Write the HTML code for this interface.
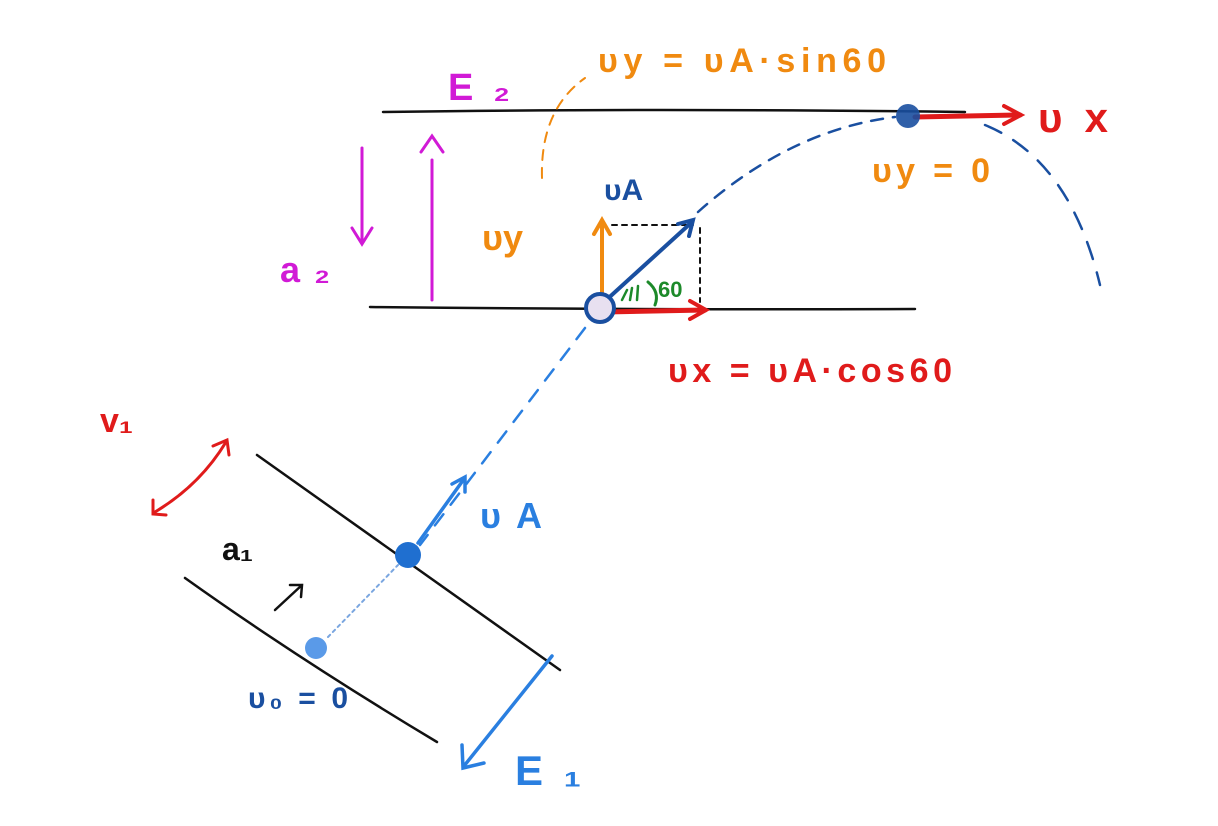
<!DOCTYPE html>
<html><head><meta charset="utf-8"><style>
html,body{margin:0;padding:0;background:#fff;}
svg{display:block}
text{font-family:"Liberation Sans",sans-serif;}
</style></head><body>
<svg width="1218" height="826" viewBox="0 0 1218 826" xmlns="http://www.w3.org/2000/svg">
<g fill="none" stroke-linecap="round">
<path d="M383,112 Q650,108 965,112" stroke="#111" stroke-width="2.5"/>
<path d="M370,307 Q640,310 915,309" stroke="#111" stroke-width="2.5"/>
<path d="M362,148 L362,242" stroke="#d11ad6" stroke-width="3"/>
<path d="M352,228 L362,244 L372,228" stroke="#d11ad6" stroke-width="3"/>
<path d="M432,300 L432,160" stroke="#d11ad6" stroke-width="3"/>
<path d="M421,152 L432,136 L443,152" stroke="#d11ad6" stroke-width="3"/>
<path d="M542,178 Q540,110 585,78" stroke="#f08a10" stroke-width="2" stroke-dasharray="10,8"/>
<path d="M602,300 L602,222" stroke="#f08a10" stroke-width="4"/>
<path d="M594,234 L602,220 L610,234" stroke="#f08a10" stroke-width="4"/>
<path d="M612,225 L693,225 M700,228 L700,302" stroke="#111" stroke-width="2" stroke-dasharray="5,5"/>
<path d="M603,303 L692,222" stroke="#1a4fa0" stroke-width="4"/>
<path d="M678,224 L693,220 L689,236" stroke="#1a4fa0" stroke-width="4"/>
<path d="M648,282 Q660,292 655,305" stroke="#1d8a2a" stroke-width="3"/>
<path d="M622,300 L627,290 M630,300 L632,288 M637,300 L638,286" stroke="#1d8a2a" stroke-width="2.5"/>
<path d="M605,312 L705,310" stroke="#e01b1b" stroke-width="5"/>
<path d="M690,301 L706,310 L690,319" stroke="#e01b1b" stroke-width="4"/>
<path d="M698,212 Q790,130 895,117" stroke="#1a4fa0" stroke-width="2.5" stroke-dasharray="12,10"/>
<path d="M985,125 Q1070,160 1100,285" stroke="#1a4fa0" stroke-width="2.5" stroke-dasharray="18,14"/>
<path d="M585,328 L420,545" stroke="#2a7fe0" stroke-width="2.5" stroke-dasharray="14,12"/>
<path d="M328,637 L398,565" stroke="#7aa6e0" stroke-width="2" stroke-dasharray="3,4"/>
<path d="M915,117 L1020,115" stroke="#e01b1b" stroke-width="5"/>
<path d="M1004,106 L1021,115 L1004,124" stroke="#e01b1b" stroke-width="4"/>
<path d="M257,455 Q420,570 560,670" stroke="#111" stroke-width="2.5"/>
<path d="M185,578 Q300,660 437,742" stroke="#111" stroke-width="2.5"/>
<path d="M155,512 Q200,485 226,442" stroke="#e01b1b" stroke-width="3"/>
<path d="M213,446 L227,440 L229,455 M153,500 L153,514 L166,515" stroke="#e01b1b" stroke-width="3"/>
<path d="M275,610 L302,585 M290,585 L302,585 L301,597" stroke="#111" stroke-width="2.5"/>
<path d="M418,543 L464,479" stroke="#2a7fe0" stroke-width="3.5"/>
<path d="M452,484 L465,477 L465,492" stroke="#2a7fe0" stroke-width="3.5"/>
<path d="M552,656 L464,766" stroke="#2a7fe0" stroke-width="3.5"/>
<path d="M462,745 L463,768 L484,763" stroke="#2a7fe0" stroke-width="3.5"/>
</g>
<circle cx="600" cy="308" r="14" fill="#e8e0f0" stroke="#1a4fa0" stroke-width="4"/>
<circle cx="908" cy="116" r="12" fill="#1a4fa0" opacity="0.9"/>
<circle cx="408" cy="555" r="13" fill="#1f6fd0"/>
<circle cx="316" cy="648" r="11" fill="#5a9ae8"/>
<g font-weight="bold">
<text x="448" y="100" fill="#d11ad6" font-size="38" textLength="62">E₂</text>
<text x="280" y="282" fill="#d11ad6" font-size="36" textLength="50">a₂</text>
<text x="598" y="72" fill="#f08a10" font-size="34" textLength="288">υy = υA·sin60</text>
<text x="482" y="250" fill="#f08a10" font-size="36">υy</text>
<text x="604" y="200" fill="#1a4fa0" font-size="30">υA</text>
<text x="658" y="297" fill="#1d8a2a" font-size="22">60</text>
<text x="872" y="182" fill="#f08a10" font-size="34" textLength="118">υy = 0</text>
<text x="1038" y="132" fill="#e01b1b" font-size="42" textLength="70">υx</text>
<text x="668" y="382" fill="#e01b1b" font-size="34" textLength="284">υx = υA·cos60</text>
<text x="100" y="432" fill="#e01b1b" font-size="34">v₁</text>
<text x="222" y="560" fill="#111" font-size="32">a₁</text>
<text x="480" y="528" fill="#2a7fe0" font-size="36" textLength="62">υA</text>
<text x="248" y="708" fill="#1a4fa0" font-size="30" textLength="100">υ₀ = 0</text>
<text x="515" y="785" fill="#2a7fe0" font-size="42" textLength="66">E₁</text>
</g>
</svg>
</body></html>
